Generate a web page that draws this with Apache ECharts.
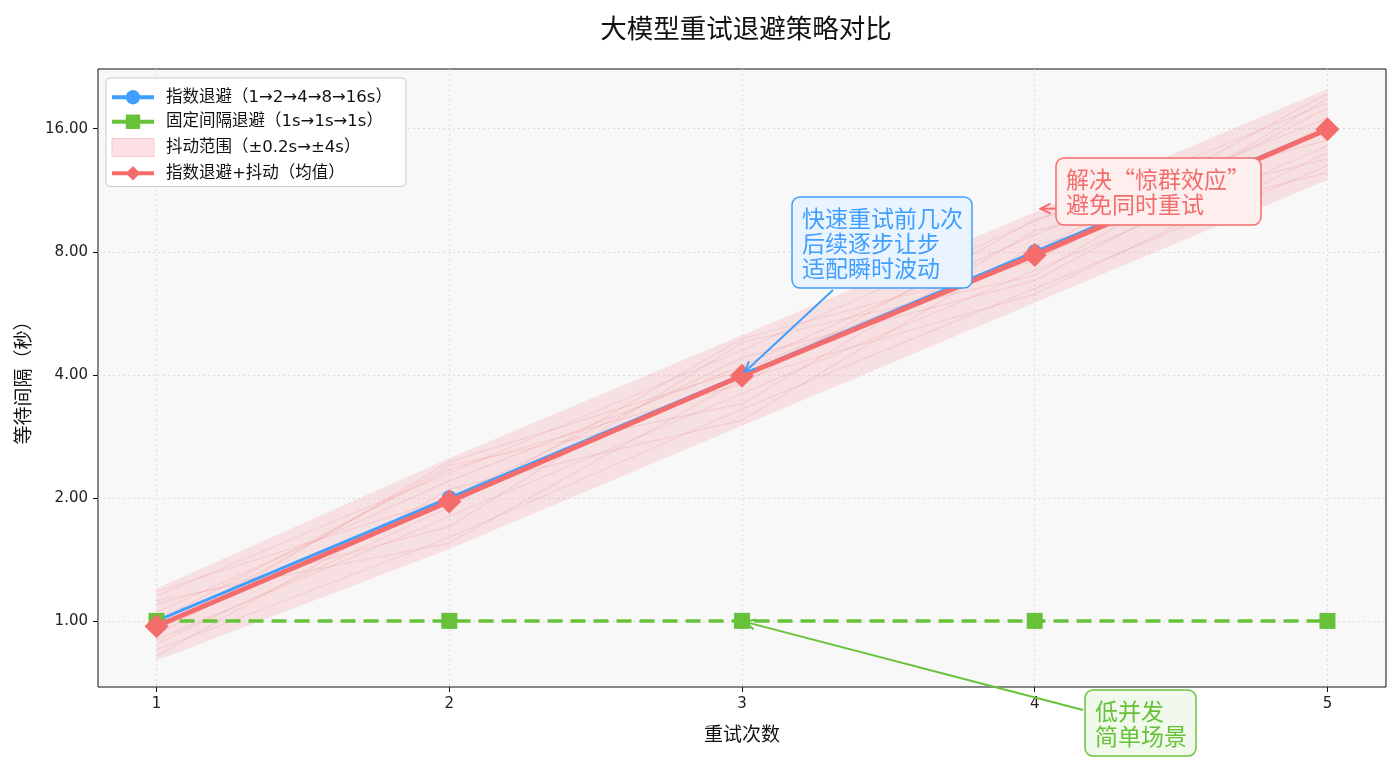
<!DOCTYPE html>
<html>
<head>
<meta charset="utf-8">
<script src="https://cdn.jsdelivr.net/npm/echarts@6/dist/echarts.min.js"></script>
<style>
  html, body { margin: 0; padding: 0; background: #fff; }
  #chart_box { width: 1400px; height: 760px; }
</style>
</head>
<body>
<div id="chart_box"></div>
<script>
// 数据
var attempts = [1, 2, 3, 4, 5];
var expBackoff = [1, 2, 4, 8, 16];
var fixedBackoff = [1, 1, 1, 1, 1];
var jitterLower = [0.8, 1.5, 3, 6, 12];
var jitterUpper = [1.2, 2.5, 5, 10, 20];
var jitterMean = [0.97, 1.96, 3.98, 7.85, 15.95];
// 抖动样本线（估读）
var jitterSamples = [
  [1.15, 2.3, 4.6, 9.5, 18.5],
  [0.85, 1.6, 3.3, 6.5, 13],
  [1.05, 2.2, 4.2, 8.8, 17],
  [0.9, 1.8, 3.6, 7.2, 14.5],
  [1.1, 1.7, 4.8, 7.0, 19],
  [0.95, 2.4, 3.4, 9.0, 13.5],
  [1.18, 2.0, 4.4, 6.8, 16.5],
  [0.82, 2.1, 3.1, 8.3, 12.5],
  [1.0, 2.35, 3.8, 9.6, 15],
  [0.88, 1.9, 4.9, 7.6, 18],
  [1.12, 1.55, 3.9, 6.3, 14],
  [0.92, 2.45, 4.1, 8.0, 19.5]
];
var yTicks = [1, 2, 4, 8, 16];

var FONT = '"Noto Sans CJK SC", "Noto Sans", sans-serif';
var NUMFONT = '"DejaVu Sans", "Noto Sans CJK SC", sans-serif';
var BLUE = '#409EFF', GREEN = '#67C23A', RED = '#F56C6C';

function pairs(ys) {
  var out = [];
  for (var i = 0; i < attempts.length; i++) out.push([attempts[i], ys[i]]);
  return out;
}

var seriesList = [];
// 抖动范围：上下界之间的多边形
seriesList.push({
  name: '抖动范围（±0.2s→±4s）', type: 'custom', z: 1, silent: true,
  itemStyle: { color: '#FCE0E3' },
  data: [[attempts[0], jitterLower[0]]],
  encode: { x: 0, y: 1 },
  renderItem: function (params, api) {
    var pts = [];
    for (var i = 0; i < attempts.length; i++) pts.push(api.coord([attempts[i], jitterUpper[i]]));
    for (var j = attempts.length - 1; j >= 0; j--) pts.push(api.coord([attempts[j], jitterLower[j]]));
    return { type: 'polygon', shape: { points: pts }, style: { fill: 'rgba(245,130,140,0.2)' } };
  }
});
for (var s = 0; s < jitterSamples.length; s++) {
  seriesList.push({
    name: '_sample' + s, type: 'line', symbol: 'none', silent: true,
    lineStyle: { color: 'rgba(235,120,130,0.18)', width: 1.2 },
    data: pairs(jitterSamples[s]), z: 2
  });
}
seriesList.push({
  name: '指数退避（1→2→4→8→16s）', type: 'line', symbol: 'circle', symbolSize: 15,
  lineStyle: { color: BLUE, width: 3 }, itemStyle: { color: BLUE },
  data: pairs(expBackoff), z: 3
});
seriesList.push({
  name: '固定间隔退避（1s→1s→1s）', type: 'line', symbol: 'rect', symbolSize: 16,
  lineStyle: { color: GREEN, width: 3.5, type: [15, 8] }, itemStyle: { color: GREEN },
  data: pairs(fixedBackoff), z: 4
});
seriesList.push({
  name: '指数退避+抖动（均值）', type: 'line', symbol: 'diamond', symbolSize: 24,
  lineStyle: { color: RED, width: 5 }, itemStyle: { color: RED },
  data: pairs(jitterMean), z: 5
});

var myEcharts = echarts.init(document.getElementById('chart_box'));
myEcharts.setOption({
  animation: false,
  textStyle: { fontFamily: FONT },
  title: {
    text: '大模型重试退避策略对比', left: 741, top: 10, textAlign: 'center',
    textStyle: { fontFamily: FONT, fontSize: 26.5, fontWeight: 'normal', color: '#111' }
  },
  legend: {
    orient: 'vertical', left: 106, top: 78,
    padding: [11, 14, 5, 4], itemGap: 8, itemWidth: 42, itemHeight: 18,
    backgroundColor: '#fff', borderColor: '#ccc', borderWidth: 1, borderRadius: 4,
    textStyle: { fontFamily: NUMFONT, fontSize: 16.5, color: '#111', padding: [0, 0, 0, 7] },
    data: [
      { name: '指数退避（1→2→4→8→16s）', lineStyle: { width: 4 } },
      { name: '固定间隔退避（1s→1s→1s）', lineStyle: { width: 4, type: 'solid' } },
      { name: '抖动范围（±0.2s→±4s）', icon: 'rect', itemStyle: { color: '#FCE0E3', borderColor: '#F8C8CC', borderWidth: 1 } },
      { name: '指数退避+抖动（均值）', lineStyle: { width: 4 } }
    ]
  },
  grid: {
    left: 98, right: 14, top: 69, bottom: 73, show: true,
    backgroundColor: '#f8f8f8', borderColor: '#111', borderWidth: 1
  },
  xAxis: {
    type: 'value', min: 0.8, max: 5.2,
    name: '重试次数', nameLocation: 'middle', nameGap: 37,
    nameTextStyle: { fontFamily: FONT, fontSize: 19, color: '#111' },
    axisLine: { show: false },
    axisTick: { show: true, length: 5, lineStyle: { color: '#111' }, customValues: attempts },
    axisLabel: { fontFamily: NUMFONT, fontSize: 15, color: '#222', margin: 10, customValues: attempts },
    splitLine: { show: true, lineStyle: { color: '#dcdcdc', type: [2, 3] } }
  },
  yAxis: {
    type: 'log', logBase: 2, min: 0.689, max: 22.4,
    name: '等待间隔（秒）', nameLocation: 'middle', nameGap: 66,
    nameTextStyle: { fontFamily: FONT, fontSize: 19, color: '#111' },
    axisLine: { show: false },
    axisTick: { show: true, length: 5, lineStyle: { color: '#111' }, customValues: yTicks },
    axisLabel: {
      fontFamily: NUMFONT, fontSize: 15, color: '#222', margin: 10, customValues: yTicks,
      formatter: function (v) { return Number(v).toFixed(2); }
    },
    splitLine: { show: true, lineStyle: { color: '#dcdcdc', type: [2, 3] } }
  },
  series: seriesList
});

// 注释框与箭头
function arrow(from, to, color) {
  var dx = to[0] - from[0], dy = to[1] - from[1];
  var len = Math.sqrt(dx * dx + dy * dy);
  var ux = dx / len, uy = dy / len;
  var h = 10, w = 5;
  var bx = to[0] - ux * h, by = to[1] - uy * h;
  return [
    { type: 'line', shape: { x1: from[0], y1: from[1], x2: to[0], y2: to[1] }, style: { stroke: color, lineWidth: 2 }, z: 100 },
    { type: 'polyline', shape: { points: [[bx - uy * w, by + ux * w], to, [bx + uy * w, by - ux * w]] }, style: { stroke: color, lineWidth: 2, fill: null }, z: 100 }
  ];
}
function note(x, y, w, h, lines, color, bg) {
  return [
    { type: 'rect', z: 110, shape: { x: x, y: y, width: w, height: h, r: 8 }, style: { fill: bg, stroke: color, lineWidth: 1.5 } },
    { type: 'text', z: 111, x: x + 10, y: y + 9, style: { text: lines.join('\n'), fill: color, font: '23px ' + FONT, lineHeight: 25 } }
  ];
}
var pBlue = myEcharts.convertToPixel({ gridIndex: 0 }, [3, 4]);
var pGreen = myEcharts.convertToPixel({ gridIndex: 0 }, [3, 1]);
var pRed = myEcharts.convertToPixel({ gridIndex: 0 }, [4.02, 10.2]);
var graphics = [];
graphics = graphics.concat(arrow([833, 290], [pBlue[0] + 3, pBlue[1] - 3], BLUE));
graphics = graphics.concat(arrow([1056, pRed[1]], pRed, RED));
graphics = graphics.concat(arrow([1083, 710], [pGreen[0] + 3, pGreen[1] + 1], GREEN));
graphics = graphics.concat(note(792, 197, 180, 91, ['快速重试前几次', '后续逐步让步', '适配瞬时波动'], BLUE, '#EAF4FE'));
graphics = graphics.concat(note(1056, 158, 205, 67, ['解决“惊群效应”', '避免同时重试'], RED, '#FEEFEF'));
graphics = graphics.concat(note(1085, 690, 111, 66, ['低并发', '简单场景'], GREEN, '#F0F9EB'));
myEcharts.setOption({ graphic: graphics });
</script>
</body>
</html>
